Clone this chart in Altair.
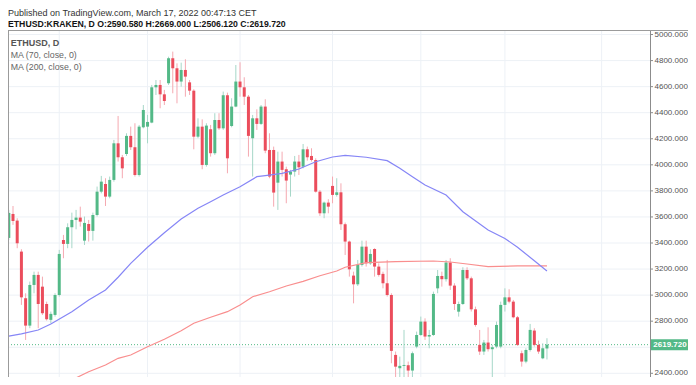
import altair as alt
import pandas as pd

# ---------------- data ----------------
candle_idx = list(range(129))
opens = [3439, 3623, 3572, 3334, 2976, 2766, 3078, 3155, 3065, 2932,
         2810, 2848, 3001, 3423, 3393, 3521, 3577, 3595, 3418, 3546,
         3493, 3615, 3794, 3853, 3756, 3884, 4165, 4058, 4083, 4222,
         4135, 3922, 4288, 4293, 4324, 4595, 4613, 4541, 4626, 4818,
         4741, 4639, 4728, 4633, 4569, 4216, 4293, 3999, 4273, 4089,
         4344, 4280, 4534, 4298, 4447, 4639, 4595, 4523, 4204, 4357,
         4314, 4447, 4114, 4114, 3863, 4025, 3966, 3925, 3948, 4025,
         3986, 4119, 4068, 4037, 3794, 3628, 3710, 3838, 3769, 3789,
         3544, 3411, 3150, 3083, 3232, 3372, 3244, 3354, 3219, 3163,
         3091, 3001, 2541, 2439, 2457, 2462, 2421, 2605, 2694, 2797,
         2682, 2694, 3052, 3147, 3122, 3250, 3073, 2873, 2932, 3193,
         3129, 2891, 2618, 2567, 2636, 2585, 2605, 2605, 2925, 2983,
         2950, 2830, 2554, 2490, 2579, 2728, 2618, 2515, 2590.58]
highs = [3654, 3684, 3590, 3352, 3014, 3104, 3180, 3180, 3142, 2950,
         2874, 3014, 3347, 3462, 3551, 3633, 3654, 3679, 3603, 3577,
         3633, 3833, 3915, 3897, 3910, 4191, 4375, 4076, 4242, 4293,
         4319, 4306, 4459, 4383, 4613, 4651, 4651, 4575, 4830, 4869,
         4779, 4784, 4810, 4651, 4580, 4357, 4349, 4319, 4306, 4396,
         4396, 4562, 4554, 4511, 4766, 4787, 4672, 4536, 4383, 4426,
         4459, 4503, 4242, 4140, 4101, 4101, 3986, 3961, 4068, 4076,
         4160, 4140, 4127, 4050, 3807, 3718, 3736, 3910, 3897, 3858,
         3557, 3418, 3180, 3270, 3418, 3418, 3352, 3360, 3244, 3180,
         3270, 3014, 2567, 2528, 2733, 2490, 2567, 2720, 2835, 2822,
         2733, 3027, 3193, 3180, 3270, 3283, 3091, 2950, 3214, 3214,
         3142, 2912, 2733, 2656, 2753, 2618, 2797, 2950, 3052, 3045,
         2963, 2840, 2574, 2592, 2779, 2746, 2651, 2630, 2669.0]
lows = [3423, 3539, 3360, 2925, 2656, 2746, 3014, 2746, 2848, 2805,
        2784, 2835, 2989, 3283, 3360, 3360, 3505, 3526, 3385, 3411,
        3418, 3603, 3781, 3684, 3743, 3871, 4025, 3897, 4068, 4114,
        3910, 3910, 4280, 4165, 4319, 4536, 4434, 4459, 4613, 4549,
        4472, 4600, 4523, 4536, 4119, 4204, 3966, 3986, 4063, 4076,
        4268, 4268, 3935, 4288, 4442, 4523, 4459, 4063, 3910, 4268,
        4306, 4089, 3897, 3679, 3654, 3910, 3705, 3756, 3910, 3922,
        3973, 4032, 4025, 3787, 3608, 3590, 3628, 3705, 3756, 3500,
        3308, 3142, 2937, 3070, 3219, 3219, 3232, 3142, 3142, 3052,
        2989, 2477, 2324, 2362, 2349, 2324, 2362, 2592, 2687, 2656,
        2592, 2687, 3014, 3065, 3104, 3040, 2886, 2835, 2925, 3116,
        2874, 2758, 2541, 2541, 2567, 2270, 2592, 2592, 2874, 2937,
        2822, 2610, 2451, 2477, 2567, 2605, 2549, 2508, 2506.12]
closes = [3631, 3569, 3398, 2983, 2766, 3078, 3155, 2932, 2861, 2815,
          2856, 3001, 3316, 3393, 3521, 3577, 3595, 3564, 3554, 3493,
          3615, 3794, 3871, 3756, 3884, 4165, 4058, 3973, 4222, 4135,
          3922, 4293, 4421, 4329, 4595, 4613, 4541, 4490, 4818, 4741,
          4639, 4728, 4677, 4569, 4216, 4293, 3999, 4301, 4089, 4344,
          4280, 4534, 4050, 4447, 4639, 4595, 4523, 4222, 4357, 4314,
          4447, 4109, 3910, 3787, 4025, 3961, 3879, 3948, 4025, 3981,
          4119, 4058, 4037, 3794, 3628, 3710, 3679, 3769, 3789, 3544,
          3411, 3198, 3083, 3232, 3372, 3244, 3316, 3219, 3155, 3091,
          3001, 2572, 2451, 2457, 2464, 2421, 2554, 2694, 2797, 2682,
          2694, 3009, 3147, 3122, 3250, 3073, 2932, 2932, 3193, 3129,
          2891, 2771, 2567, 2636, 2585, 2600, 2771, 2925, 2983, 2950,
          2830, 2618, 2490, 2579, 2733, 2618, 2567, 2592, 2619.72]

ma70_idx = [0, 3, 7, 10, 15, 19, 23, 26, 29, 33, 37, 41, 45, 48, 51, 55, 59, 61,
            65, 69, 73, 77, 80, 85, 90, 93, 96, 99, 104, 108, 114, 118, 121, 125, 128]
ma70_val = [2686, 2702, 2732, 2778, 2873, 2963, 3039, 3137, 3244, 3367, 3479, 3584,
            3666, 3717, 3768, 3832, 3909, 3917, 3935, 3968, 4024, 4060, 4072, 4058,
            4032, 3973, 3909, 3845, 3768, 3640, 3500, 3435, 3367, 3264, 3185]
ma200_idx = [12, 15, 19, 23, 26, 29, 33, 37, 41, 44, 48, 52, 55, 58, 62, 66, 70, 74,
             78, 80, 85, 92, 101, 105, 109, 114, 121, 128]
ma200_val = [2318, 2349, 2412, 2464, 2515, 2540, 2604, 2661, 2727, 2784, 2830, 2873,
             2924, 2988, 3026, 3070, 3105, 3149, 3185, 3214, 3249, 3257, 3262, 3254,
             3239, 3218, 3224, 3224]

vgrid_idx = [12, 33, 55, 77, 98, 118, 141]
hgrid_values = [2400, 2600, 2800, 3000, 3200, 3400, 3600, 3800, 4000, 4200, 4400, 4600, 4800, 5000]
axis_values = [2400, 2800, 3000, 3200, 3400, 3600, 3800, 4000, 4200, 4400, 4600, 4800, 5000]
last_price = 2619.72
last_label = "2619.720"

header1 = "Published on TradingView.com, March 17, 2022 00:47:13 CET"
header2 = "ETHUSD:KRAKEN, D  O:2590.580  H:2669.000  L:2506.120  C:2619.720"
legend_lines = ["ETHUSD, D", "MA (70, close, 0)", "MA (200, close, 0)"]

# ---------------- chart ----------------
df = pd.DataFrame({"idx": candle_idx, "open": opens, "high": highs,
                   "low": lows, "close": closes})

W, H = 642, 347
xs = alt.Scale(domain=[1, 151.32], nice=False, zero=False)
ys = alt.Scale(domain=[2371.6, 5034.7], nice=False, zero=False)

UP, DOWN = "#53b987", "#eb4d5c"
UPW, DOWNW = "#a6d7c8", "#f5a9b1"
GRID = "#edf1f6"
AXIS = "#8c8c8c"
FONT = "Liberation Sans"
up_test = "datum.close >= datum.open"

one = pd.DataFrame({"k": [0]})

hgrid = alt.Chart(pd.DataFrame({"p": hgrid_values})).mark_rule(color=GRID).encode(
    y=alt.Y("p:Q", scale=ys, axis=None), x=alt.value(0), x2=alt.value(W))

vgrid = alt.Chart(pd.DataFrame({"idx": vgrid_idx})).mark_rule(color=GRID).encode(
    x=alt.X("idx:Q", scale=xs, axis=None), y=alt.value(0), y2=alt.value(H))

axis_df = pd.DataFrame({"p": axis_values})
ticks = alt.Chart(axis_df).mark_rule(color=AXIS).encode(
    y=alt.Y("p:Q", scale=ys, axis=None), x=alt.value(W), x2=alt.value(W + 3))
tick_labels = alt.Chart(axis_df).mark_text(
    align="left", baseline="middle", fontSize=8, font=FONT, color="#555555").encode(
    y=alt.Y("p:Q", scale=ys, axis=None), x=alt.value(W + 4.5),
    text=alt.Text("p:Q", format=".3f"))
axis_line = alt.Chart(one).mark_rule(color=AXIS).encode(
    x=alt.value(W + 0.5), y=alt.value(0), y2=alt.value(H))

price_line = alt.Chart(one).mark_rule(color=UP, strokeDash=[1, 2], strokeWidth=1).encode(
    y=alt.Y(datum=last_price, scale=ys, axis=None), x=alt.value(0), x2=alt.value(W))

wicks = alt.Chart(df).mark_rule(clip=True, strokeWidth=1).encode(
    x=alt.X("idx:Q", scale=xs, axis=None),
    y=alt.Y("low:Q", scale=ys, axis=None),
    y2="high:Q",
    color=alt.condition(up_test, alt.value(UPW), alt.value(DOWNW)))

bodies = alt.Chart(df).mark_bar(clip=True, size=3).encode(
    x=alt.X("idx:Q", scale=xs, axis=None),
    y=alt.Y("open:Q", scale=ys, axis=None),
    y2="close:Q",
    color=alt.condition(up_test, alt.value(UP), alt.value(DOWN)))

ma200 = alt.Chart(pd.DataFrame({"idx": ma200_idx, "v": ma200_val})).mark_line(
    clip=True, color="#f98e8e", strokeWidth=1.2).encode(
    x=alt.X("idx:Q", scale=xs, axis=None), y=alt.Y("v:Q", scale=ys, axis=None))

ma70 = alt.Chart(pd.DataFrame({"idx": ma70_idx, "v": ma70_val})).mark_line(
    clip=True, color="#8686f6", strokeWidth=1.2).encode(
    x=alt.X("idx:Q", scale=xs, axis=None), y=alt.Y("v:Q", scale=ys, axis=None))

top_border = alt.Chart(one).mark_rule(color="#9b9b9b", strokeWidth=1).encode(
    x=alt.value(0), x2=alt.value(680), y=alt.value(0.5))
left_border = alt.Chart(one).mark_rule(color="#9b9b9b", strokeWidth=1).encode(
    x=alt.value(0.5), y=alt.value(0), y2=alt.value(H))

price_box = alt.Chart(one).mark_rule(color=UP, strokeWidth=11, strokeCap="butt").encode(
    y=alt.Y(datum=last_price, scale=ys, axis=None), x=alt.value(643), x2=alt.value(680))
price_txt = alt.Chart(pd.DataFrame({"t": [last_label]})).mark_text(
    color="white", fontWeight="bold", fontSize=8, font=FONT,
    align="center", baseline="middle").encode(
    y=alt.Y(datum=last_price, scale=ys, axis=None), x=alt.value(662), text="t:N")


def text_layer(txt, x, y, size, weight, color):
    return alt.Chart(pd.DataFrame({"t": [txt]})).mark_text(
        align="left", baseline="alphabetic", fontSize=size, font=FONT,
        fontWeight=weight, color=color).encode(
        x=alt.value(x), y=alt.value(y), text="t:N")


h1 = text_layer(header1, 0, -14.5, 9, "normal", "#333333")
h2 = text_layer(header2, 0, -3.5, 8.7, "bold", "#131313")
leg0 = text_layer(legend_lines[0], 2.7, 16, 9, "bold", "#555555")
leg1 = text_layer(legend_lines[1], 2.7, 28.3, 8.8, "normal", "#666666")
leg2 = text_layer(legend_lines[2], 2.7, 40, 8.8, "normal", "#666666")

chart = alt.layer(
    hgrid, vgrid, price_line, wicks, bodies, ma200, ma70,
    axis_line, ticks, tick_labels,
    top_border, left_border, price_box, price_txt, h1, h2, leg0, leg1, leg2
).properties(
    width=W, height=H,
    padding={"left": 0, "top": 22, "right": 38, "bottom": 0},
    autosize=alt.AutoSizeParams(type="none"),
    background="white",
).configure_view(strokeWidth=0)

chart.save("out.html", embed_options={"renderer": "svg", "actions": False})
